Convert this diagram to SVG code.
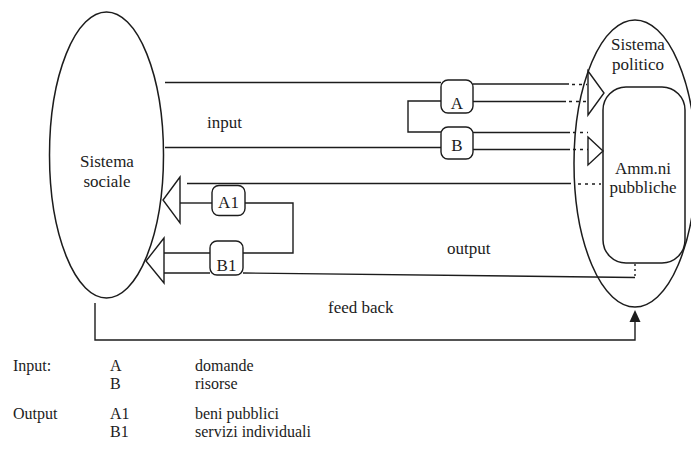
<svg xmlns="http://www.w3.org/2000/svg" width="691" height="457" viewBox="0 0 691 457">
<style>
.sh{fill:none;stroke:#1c1c1c;stroke-width:1.5}
.ln{fill:none;stroke:#1c1c1c;stroke-width:1.4}
.dt{fill:none;stroke:#1c1c1c;stroke-width:1.4;stroke-dasharray:3 4}
.tri{fill:#fff;stroke:#1c1c1c;stroke-width:1.4;stroke-linejoin:miter}
.box{fill:#fff;stroke:#1c1c1c;stroke-width:1.4}
text{font-family:"Liberation Serif","Times New Roman",serif;font-size:17px;fill:#1c1c1c}
.c{text-anchor:middle}
.lg{font-size:16px}
</style>
<rect width="691" height="457" fill="#fff"/>
<g id="sistema-sociale">
<ellipse class="sh" cx="106.5" cy="155" rx="57" ry="143"/>
<text class="c" x="107" y="167">Sistema</text>
<text class="c" x="107" y="187">sociale</text>
</g>
<g id="sistema-politico">
<ellipse class="sh" cx="635" cy="163.5" rx="61" ry="143.5"/>
<text class="c" x="638" y="50">Sistema</text>
<text class="c" x="638" y="70">politico</text>
</g>
<g id="amm-pubbliche">
<rect class="sh" x="603" y="87" width="82" height="176" rx="23"/>
<text class="c" x="643" y="174">Amm.ni</text>
<text class="c" x="643" y="193">pubbliche</text>
</g>
<g id="connectors">
<path class="ln" d="M165 82.5 H441"/>
<path class="ln" d="M165 147.5 H441"/>
<path class="ln" d="M441 101 H408 V132 H441"/>
<path class="ln" d="M473 84 H569"/>
<path class="ln" d="M473 101.5 H566"/>
<path class="ln" d="M473 132.5 H570"/>
<path class="ln" d="M473 149.5 H570"/>
<path class="dt" d="M572 84.5 H587"/>
<path class="dt" d="M569 101.5 H587"/>
<path class="dt" d="M573 132.5 H588"/>
<path class="dt" d="M573 149.5 H588"/>
<polygon class="tri" points="588,71 604,93 588,115"/>
<polygon class="tri" points="588,137 603,151 588,165"/>
<path class="ln" d="M187 183.5 H571"/>
<path class="dt" d="M578 184 H601"/>
<path class="ln" d="M180 203 H212"/>
<path class="ln" d="M245 203 H293 V253 H243"/>
<path class="ln" d="M164 253 H210"/>
<path class="ln" d="M164 273 H210"/>
<path class="ln" d="M243 273 L635 277.5"/>
<path class="dt" d="M635 276 V264" style="stroke-dasharray:2 3"/>
<polygon class="tri" points="180,177 163,200 180,223"/>
<polygon class="tri" points="164,238 146,261 164,283"/>
<path class="ln" d="M95 303 V340 H635 V321"/>
<polygon points="629.5,322 640.5,322 635,310" fill="#1c1c1c"/>
</g>
<g id="box-A">
<rect class="box" x="441" y="80" width="32" height="33" rx="7"/>
<text class="c" x="457" y="109">A</text>
</g>
<g id="box-B">
<rect class="box" x="441" y="127" width="32" height="32" rx="7"/>
<text class="c" x="457" y="151">B</text>
</g>
<g id="box-A1">
<rect class="box" x="212" y="185.5" width="33" height="30" rx="7"/>
<text class="c" x="228.5" y="208">A1</text>
</g>
<g id="box-B1">
<rect class="box" x="210" y="241" width="33" height="34" rx="7"/>
<text class="c" x="226.5" y="271">B1</text>
</g>
<g id="labels">
<text x="207" y="128">input</text>
<text x="447" y="254">output</text>
<text x="328" y="313">feed back</text>
</g>
<g id="legend" class="lg">
<text class="lg" x="13" y="371">Input:</text>
<text class="lg" x="110" y="371">A</text>
<text class="lg" x="195" y="371">domande</text>
<text class="lg" x="110" y="389">B</text>
<text class="lg" x="195" y="389">risorse</text>
<text class="lg" x="13" y="419">Output</text>
<text class="lg" x="110" y="419">A1</text>
<text class="lg" x="195" y="419">beni pubblici</text>
<text class="lg" x="110" y="437">B1</text>
<text class="lg" x="195" y="437">servizi individuali</text>
</g>
</svg>
